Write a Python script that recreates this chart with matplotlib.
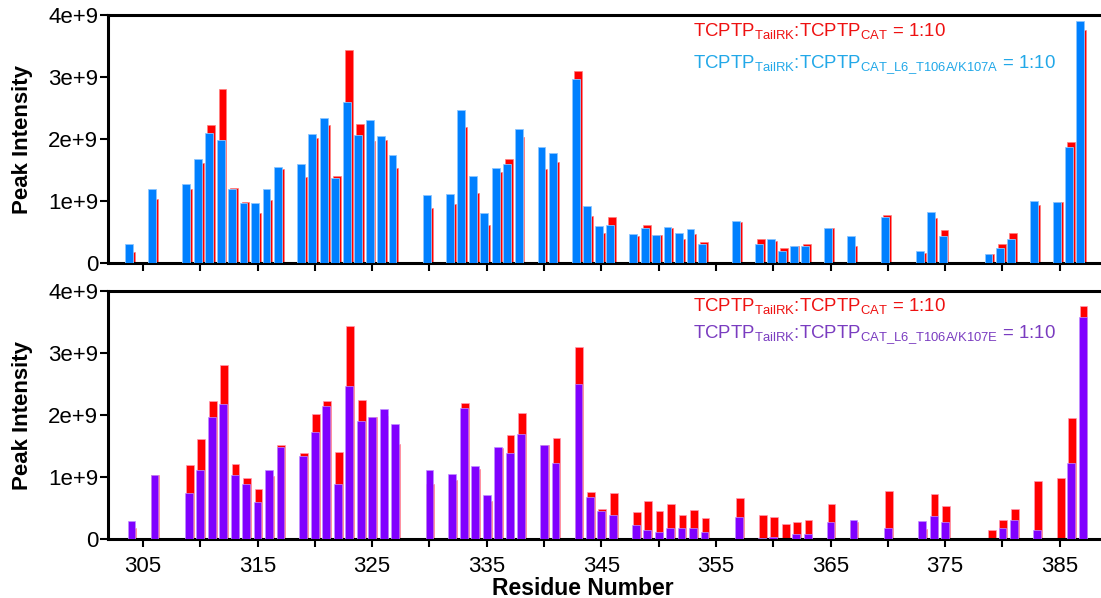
import matplotlib
matplotlib.use('Agg')
import matplotlib.pyplot as plt
from matplotlib.ticker import FixedLocator, FuncFormatter

plt.rcParams['font.family'] = ['Liberation Sans', 'DejaVu Sans']
plt.rcParams['mathtext.fontset'] = 'custom'
plt.rcParams['mathtext.rm'] = 'Liberation Sans'

# residues with a peak
residues = [304, 306, 309, 310, 311, 312, 313, 314, 315, 316, 317,
            319, 320, 321, 322, 323, 324, 325, 326, 327, 330,
            332, 333, 334, 335, 336, 337, 338, 340, 341,
            343, 344, 345, 346, 348, 349, 350, 351, 352, 353, 354,
            357, 359, 360, 361, 362, 363, 365, 367, 370,
            373, 374, 375, 379, 380, 381, 383, 385, 386, 387]

# peak intensity (x1e9)
wt_cat = [0.18, 1.04, 1.19, 1.61, 2.23, 2.81, 1.21, 0.99, 0.80, 1.01, 1.52,
          1.38, 2.01, 2.23, 1.40, 3.44, 2.24, 1.96, 1.99, 1.53, 0.88,
          0.95, 2.19, 1.13, 0.62, 1.47, 1.67, 2.03, 1.52, 1.63,
          3.09, 0.76, 0.49, 0.74, 0.44, 0.61, 0.45, 0.57, 0.38, 0.47, 0.34,
          0.66, 0.39, 0.35, 0.24, 0.27, 0.30, 0.57, 0.28, 0.78,
          0.16, 0.72, 0.53, 0.15, 0.31, 0.48, 0.93, 0.99, 1.95, 3.76]

k107a = [0.31, 1.20, 1.28, 1.67, 2.10, 1.98, 1.19, 0.97, 0.97, 1.19, 1.55,
         1.59, 2.08, 2.34, 1.37, 2.60, 2.06, 2.30, 2.05, 1.75, 1.10,
         1.12, 2.47, 1.40, 0.80, 1.54, 1.59, 2.16, 1.87, 1.78,
         2.96, 0.92, 0.59, 0.62, 0.46, 0.56, 0.45, 0.58, 0.49, 0.55, 0.30,
         0.67, 0.31, 0.38, 0.19, 0.27, 0.28, 0.57, 0.44, 0.75,
         0.20, 0.83, 0.44, 0.15, 0.25, 0.39, 1.00, 0.98, 1.87, 3.91]

k107e = [0.29, 1.03, 0.75, 1.11, 1.97, 2.17, 1.04, 0.89, 0.60, 1.11, 1.49,
         1.34, 1.73, 2.14, 0.89, 2.46, 1.91, 1.96, 2.09, 1.85, 1.11,
         1.05, 2.11, 1.18, 0.71, 1.49, 1.38, 1.69, 1.51, 1.23,
         2.50, 0.67, 0.45, 0.38, 0.23, 0.15, 0.12, 0.17, 0.17, 0.18, 0.12,
         0.35, 0.01, 0.04, 0.0, 0.08, 0.08, 0.28, 0.30, 0.18,
         0.29, 0.37, 0.28, 0.0, 0.18, 0.30, 0.15, 0.0, 1.23, 3.58]

scale = 1e9
wt_cat = [v * scale for v in wt_cat]
k107a = [v * scale for v in k107a]
k107e = [v * scale for v in k107e]

RED = '#ff0000'
BLUE = '#0080ff'
PURPLE = '#8000ff'

fig = plt.figure(figsize=(11.01, 5.98), dpi=100)
W, H = 1101, 598
left, right = 108 / W, 1.0
ax1 = fig.add_axes([left, 1 - 263 / H, right - left, (263 - 15) / H])
ax2 = fig.add_axes([left, 1 - 539 / H, right - left, (539 - 291) / H])

bw = 0.68
ax1.bar([r - 0.05 for r in residues], wt_cat, width=bw, color=RED,
        edgecolor='#ff8080', linewidth=0.5, zorder=2)
ax1.bar([r - 0.22 for r in residues], k107a, width=bw, color=BLUE,
        edgecolor='#8cc6ff', linewidth=0.6, zorder=3)

ax2.bar([r + 0.08 for r in residues], wt_cat, width=bw, color=RED,
        edgecolor='#ff9ab0', linewidth=0.5, zorder=2)
ax2.bar(residues, k107e, width=bw, color=PURPLE,
        edgecolor='#c090ff', linewidth=0.5, zorder=3)

xticks = list(range(305, 386, 5))
for ax in (ax1, ax2):
    ax.set_xlim(301.95, 388.6)
    ax.set_ylim(0, 4e9)
    ax.spines['right'].set_visible(False)
    for s in ('left', 'top', 'bottom'):
        ax.spines[s].set_linewidth(2.2)
    ax.xaxis.set_major_locator(FixedLocator(xticks))
    ax.yaxis.set_major_locator(FixedLocator([0, 1e9, 2e9, 3e9, 4e9]))
    ax.yaxis.set_major_formatter(FuncFormatter(
        lambda v, p: '0' if v == 0 else '%de+9' % round(v / 1e9)))
    ax.tick_params(axis='both', direction='out', length=6, width=1.5,
                   labelsize=16, pad=1)
    ax.set_ylabel('Peak Intensity', fontsize=16, fontweight='bold')
    ax.yaxis.set_label_coords((33 - 108) / (W - 108), 0.5)

ax1.tick_params(axis='x', labelbottom=False)
ax2.tick_params(axis='x', pad=6)
ax2.xaxis.set_major_formatter(FuncFormatter(
    lambda v, p: '%d' % v if int(round(v)) % 10 == 5 else ''))
fig.text(583 / W, 1 - 595 / H, 'Residue Number', fontsize=16.5,
         fontweight='bold', ha='center', va='baseline')

sub = r'$_{\mathregular{%s}}$'
lbl_wt = 'TCPTP' + sub % 'TailRK' + ':TCPTP' + sub % 'CAT' + ' = 1:10'
lbl_a = 'TCPTP' + sub % 'TailRK' + ':TCPTP' + sub % r'CAT\_L6\_T106A/K107A' + ' = 1:10'
lbl_e = 'TCPTP' + sub % 'TailRK' + ':TCPTP' + sub % r'CAT\_L6\_T106A/K107E' + ' = 1:10'

tx = 693 / W
fs = 13.4
fig.text(tx, 1 - 37 / H, lbl_wt, color='#ee1111', fontsize=fs, va='baseline')
fig.text(tx, 1 - 68 / H, lbl_a, color='#22a8e8', fontsize=fs, va='baseline')
fig.text(tx, 1 - 312 / H, lbl_wt, color='#ee1111', fontsize=fs, va='baseline')
fig.text(tx, 1 - 338 / H, lbl_e, color='#7a3cc0', fontsize=fs, va='baseline')

fig.savefig('out.png', dpi=100)
